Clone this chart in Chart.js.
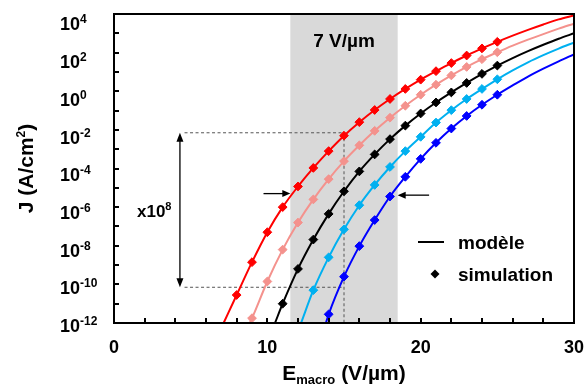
<!DOCTYPE html>
<html><head><meta charset="utf-8">
<script src="https://cdn.jsdelivr.net/npm/chart.js@4/dist/chart.umd.min.js"></script>
<style>html,body{margin:0;padding:0;background:#fff;overflow:hidden}canvas{display:block}</style>
</head><body>
<canvas id="c" width="586" height="385"></canvas>
<script>
// ---- data (log10 of J in A/cm²) ----
const xTickValues = [0, 10, 20, 30];
const yTickExponents = [4, 2, 0, -2, -4, -6, -8, -10, -12];
const seriesColors = ['#ff0000', '#f4928d', '#000000', '#00b0f0', '#0000ff'];
const simStartX = [8, 9, 11, 13, 14];
const simLogRed   = [-10.55, -8.85, -7.3, -6.0, -4.93, -3.97, -3.1, -2.3, -1.6, -0.97, -0.4, 0.12, 0.6, 1.04, 1.46, 1.85, 2.22, 2.56];
const simLogPink  = [-11.75, -9.85, -8.2, -6.8, -5.6, -4.55, -3.62, -2.8, -2.05, -1.37, -0.75, -0.18, 0.34, 0.82, 1.26, 1.66, 2.02];
const simLogBlack = [-11.0, -9.2, -7.68, -6.35, -5.18, -4.15, -3.27, -2.48, -1.78, -1.15, -0.58, -0.06, 0.43, 0.9, 1.33];
const simLogCyan  = [-10.3, -8.6, -7.15, -5.9, -4.85, -3.92, -3.1, -2.36, -1.62, -0.98, -0.4, 0.12, 0.62];
const simLogBlue  = [-11.55, -9.6, -8.02, -6.67, -5.45, -4.43, -3.5, -2.67, -1.93, -1.28, -0.7, -0.18];
const modelStartX = [7.15, 8.85, 10.5, 12.2, 13.82];
const modelTailX = [26, 27, 28, 29, 30];
const modelTailLogRed   = [2.88, 3.18, 3.46, 3.72, 3.93];
const modelTailLogPink  = [2.36, 2.67, 2.96, 3.24, 3.5];
const modelTailLogBlack = [1.72, 2.08, 2.41, 2.72, 3.0];
const modelTailLogCyan  = [1.08, 1.5, 1.87, 2.21, 2.52];
const modelTailLogBlue  = [0.3, 0.76, 1.17, 1.55, 1.91];
const bandRange = [11.5, 18.5];
const bandText = '7 V/µm';
const dashX = 15, dashLogTop = -2.15, dashLogBottom = -10.15, dashStartX = 4.6;
const gapArrowX = 4.3;
const leftArrow = { from: 9.75, to: 11.5, logY: -5.3 };
const rightArrow = { from: 20.55, to: 18.5, logY: -5.38 };
const legendLabels = ['modèle', 'simulation'];

const simLogs = [simLogRed, simLogPink, simLogBlack, simLogCyan, simLogBlue];
const tailLogs = [modelTailLogRed, modelTailLogPink, modelTailLogBlack, modelTailLogCyan, modelTailLogBlue];
const YMIN = 1e-12, YMAX = 1e4;

const datasets = [];
simLogs.forEach((arr, i) => {
  const sim = arr.map((v, k) => ({ x: simStartX[i] + k, y: Math.pow(10, v) }));
  const model = [{ x: modelStartX[i], y: YMIN }].concat(sim, tailLogs[i].map((v, k) => ({ x: modelTailX[k], y: Math.pow(10, v) })));
  datasets.push({ type: 'scatter', data: sim, showLine: false, pointStyle: 'rectRot', pointRadius: 4.4,
    backgroundColor: seriesColors[i], borderColor: seriesColors[i], borderWidth: 1, order: 0 });
  datasets.push({ type: 'line', data: model, borderColor: seriesColors[i], borderWidth: 2, pointRadius: 0,
    fill: false, cubicInterpolationMode: 'monotone', order: 1 });
});

const FONT = "'Liberation Sans', Arial, sans-serif";

function arrowHead(ctx, tx, ty, dx, dy, len, w) {
  const n = Math.hypot(dx, dy); dx /= n; dy /= n;
  ctx.beginPath();
  ctx.moveTo(tx, ty);
  ctx.lineTo(tx - dx * len - dy * w / 2, ty - dy * len + dx * w / 2);
  ctx.lineTo(tx - dx * len + dy * w / 2, ty - dy * len - dx * w / 2);
  ctx.closePath(); ctx.fill();
}

const decor = {
  id: 'decor',
  beforeDatasetsDraw(chart) {
    const { ctx, chartArea: a, scales: { x, y } } = chart;
    ctx.save();
    // grey band
    const b0 = x.getPixelForValue(bandRange[0]), b1 = x.getPixelForValue(bandRange[1]);
    ctx.fillStyle = '#d9d9d9';
    ctx.fillRect(b0, a.top, b1 - b0, a.bottom - a.top);
    ctx.fillStyle = '#000';
    ctx.font = 'bold 19px ' + FONT;
    ctx.textAlign = 'center'; ctx.textBaseline = 'alphabetic';
    ctx.fillText(bandText, (b0 + b1) / 2, a.top + 33);
    // dashed guides
    const yt = y.getPixelForValue(Math.pow(10, dashLogTop));
    const yb = y.getPixelForValue(Math.pow(10, dashLogBottom));
    const xd = x.getPixelForValue(dashX), xs = x.getPixelForValue(dashStartX);
    ctx.strokeStyle = '#555'; ctx.lineWidth = 1; ctx.setLineDash([3, 2.5]);
    ctx.beginPath();
    ctx.moveTo(xs, yt); ctx.lineTo(xd, yt);
    ctx.moveTo(xs, yb); ctx.lineTo(xd, yb);
    ctx.moveTo(xd, yt); ctx.lineTo(xd, a.bottom);
    ctx.stroke();
    ctx.restore();
  },
  afterDatasetsDraw(chart) {
    const { ctx, chartArea: a, scales: { x, y } } = chart;
    ctx.save();
    ctx.fillStyle = '#000'; ctx.strokeStyle = '#000';
    // vertical double arrow
    const ax = x.getPixelForValue(gapArrowX);
    const yt = y.getPixelForValue(Math.pow(10, dashLogTop));
    const yb = y.getPixelForValue(Math.pow(10, dashLogBottom));
    ctx.lineWidth = 1.3;
    ctx.beginPath(); ctx.moveTo(ax, yt + 6); ctx.lineTo(ax, yb - 6); ctx.stroke();
    arrowHead(ctx, ax, yt, 0, -1, 9, 7);
    arrowHead(ctx, ax, yb, 0, 1, 9, 7);
    // horizontal arrows
    [leftArrow, rightArrow].forEach(ar => {
      const x0 = x.getPixelForValue(ar.from), x1 = x.getPixelForValue(ar.to);
      const yy = y.getPixelForValue(Math.pow(10, ar.logY));
      const d = Math.sign(x1 - x0);
      ctx.beginPath(); ctx.moveTo(x0, yy); ctx.lineTo(x1 - d * 6, yy); ctx.stroke();
      arrowHead(ctx, x1, yy, d, 0, 8, 7);
    });
    // x10^8 label
    ctx.textAlign = 'left'; ctx.textBaseline = 'alphabetic';
    ctx.font = 'bold 17px ' + FONT;
    ctx.fillText('x10', 137, 217);
    const wx = ctx.measureText('x10').width;
    ctx.font = 'bold 11px ' + FONT;
    ctx.fillText('8', 137 + wx, 210);
    // frame
    ctx.lineWidth = 2;
    ctx.strokeRect(a.left, a.top, a.right - a.left, a.bottom - a.top);
    // ticks
    ctx.beginPath();
    for (let v = 0; v <= 30; v += 2) {
      const px = Math.round(x.getPixelForValue(v));
      ctx.moveTo(px, a.bottom); ctx.lineTo(px, a.bottom - 5);
    }
    for (let e = -12; e <= 4; e++) {
      const py = Math.round(y.getPixelForValue(Math.pow(10, e)));
      ctx.moveTo(a.left, py); ctx.lineTo(a.left + 5, py);
    }
    ctx.stroke();
    // x tick labels
    ctx.font = 'bold 18px ' + FONT;
    ctx.textAlign = 'center';
    xTickValues.forEach(v => ctx.fillText(String(v), x.getPixelForValue(v), a.bottom + 30));
    // y tick labels (10 with superscript exponent)
    ctx.textAlign = 'left';
    yTickExponents.forEach(e => {
      const py = y.getPixelForValue(Math.pow(10, e));
      const base = py + 9 + (e + 12) / 16 * 7.4;
      ctx.font = 'bold 18px ' + FONT;
      ctx.fillText('10', 60, base);
      const w = ctx.measureText('10').width;
      ctx.font = 'bold 12px ' + FONT;
      ctx.fillText(String(e).replace('-', '-'), 60 + w, base - 7);
    });
    // x title: E_macro (V/µm)
    const parts = [['E', 'bold 21px ', 0], ['macro', 'bold 13px ', 4], [' (V/µm)', 'bold 21px ', 0]];
    let tw = 0;
    parts.forEach(p => { ctx.font = p[1] + FONT; tw += ctx.measureText(p[0]).width; });
    let cx = (a.left + a.right) / 2 - tw / 2;
    parts.forEach(p => { ctx.font = p[1] + FONT; ctx.fillText(p[0], cx, 380 + p[2]); cx += ctx.measureText(p[0]).width; });
    // y title: J (A/cm²)
    ctx.save();
    ctx.translate(33, (a.top + a.bottom) / 2);
    ctx.rotate(-Math.PI / 2);
    const yp = [['J (A/cm', 'bold 21px ', 0], ['2', 'bold 12px ', -8], [')', 'bold 21px ', 0]];
    let yw = 0;
    yp.forEach(p => { ctx.font = p[1] + FONT; yw += ctx.measureText(p[0]).width; });
    let yx = -yw / 2;
    yp.forEach(p => { ctx.font = p[1] + FONT; ctx.fillText(p[0], yx, p[2]); yx += ctx.measureText(p[0]).width; });
    ctx.restore();
    // legend
    ctx.lineWidth = 2;
    ctx.beginPath(); ctx.moveTo(418, 242); ctx.lineTo(444, 242); ctx.stroke();
    ctx.beginPath(); ctx.moveTo(435, 269.5); ctx.lineTo(439.5, 274); ctx.lineTo(435, 278.5); ctx.lineTo(430.5, 274); ctx.closePath(); ctx.fill();
    ctx.font = 'bold 19px ' + FONT;
    ctx.fillText(legendLabels[0], 458, 248.5);
    ctx.fillText(legendLabels[1], 458, 280.5);
    ctx.restore();
  }
};

new Chart(document.getElementById('c'), {
  data: { datasets },
  options: {
    responsive: false, animation: false, devicePixelRatio: 1, events: [],
    layout: { padding: { left: 0, top: 14, right: 12, bottom: 0 } },
    plugins: { legend: { display: false }, tooltip: { enabled: false } },
    scales: {
      x: { type: 'linear', min: 0, max: 30, grid: { display: false }, border: { display: false },
           ticks: { display: false }, afterFit: s => { s.height = 62; } },
      y: { type: 'logarithmic', min: YMIN, max: YMAX, grid: { display: false }, border: { display: false },
           ticks: { display: false }, afterFit: s => { s.width = 114; } }
    }
  },
  plugins: [decor]
});
</script>
</body></html>
